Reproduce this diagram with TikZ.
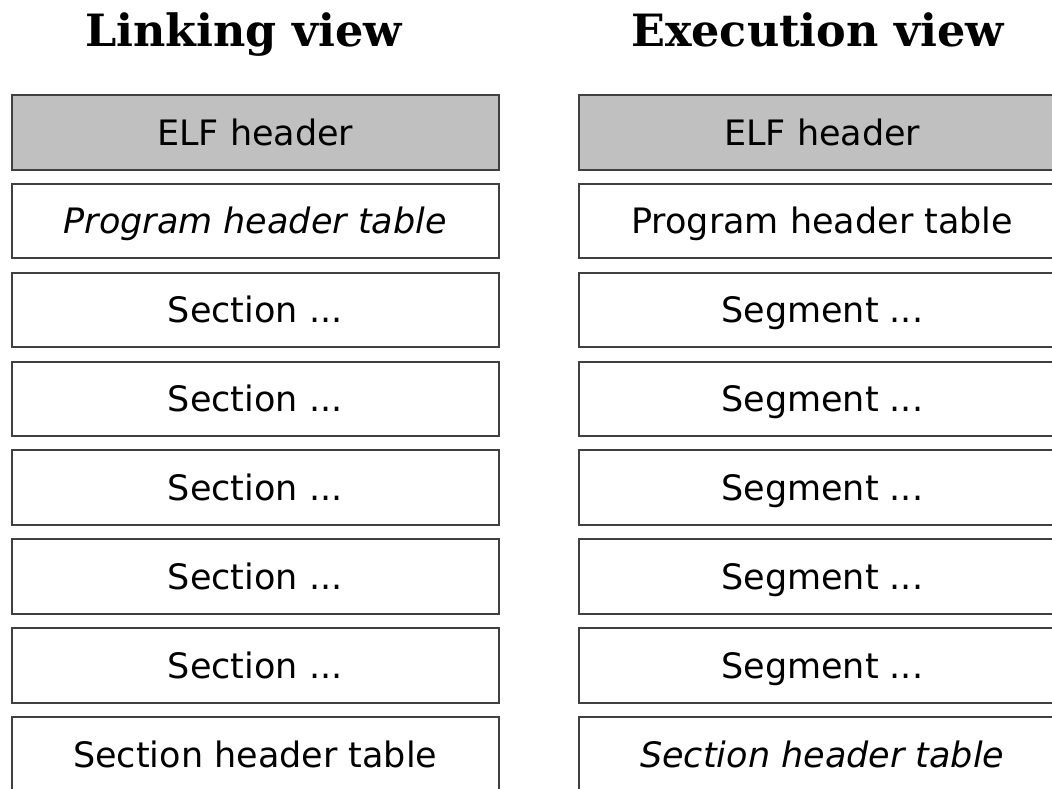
\documentclass[tikz,border=0pt]{standalone}
\usepackage{fontspec}
\setmainfont{DejaVu Sans}
\newfontfamily\titlefont{DejaVu Serif}
\definecolor{edgegray}{HTML}{404040}
\definecolor{headfill}{HTML}{C0C0C0}
\tikzset{
  x=1pt, y=1pt,
  cell/.style={draw=edgegray, line width=2pt, fill=white, minimum width=486.5pt, minimum height=74.5pt, inner sep=0pt, text height=30pt, text depth=4.5pt, anchor=center, font=\fontsize{35}{42}\selectfont},
  headcell/.style={cell, fill=headfill},
  viewtitle/.style={inner sep=0pt, anchor=base, font=\titlefont\bfseries\fontsize{44.5}{52}\selectfont}
}
\begin{document}
\begin{tikzpicture}
\useasboundingbox (0,0) rectangle (1052,-788);
\clip (0,0) rectangle (1052,-788);
\fill[white] (0,0) rectangle (1052,-788);
\node[viewtitle] (tl) at (243.5,-46) {Linking view};
\node[viewtitle] (tr) at (817.5,-46) {Execution view};
% left column
\node[headcell] (l0) at (255.25,-132.25) {ELF header};
\node[cell] (l1) at (255.25,-221.11) {\itshape Program header table};
\node[cell] (l2) at (255.25,-309.97) {Section ...};
\node[cell] (l3) at (255.25,-398.83) {Section ...};
\node[cell] (l4) at (255.25,-487.69) {Section ...};
\node[cell] (l5) at (255.25,-576.55) {Section ...};
\node[cell] (l6) at (255.25,-665.41) {Section ...};
\node[cell] (l7) at (255.25,-754.27) {Section header table};
% right column
\node[headcell] (r0) at (822.25,-132.25) {ELF header};
\node[cell] (r1) at (822.25,-221.11) {Program header table};
\node[cell] (r2) at (822.25,-309.97) {Segment ...};
\node[cell] (r3) at (822.25,-398.83) {Segment ...};
\node[cell] (r4) at (822.25,-487.69) {Segment ...};
\node[cell] (r5) at (822.25,-576.55) {Segment ...};
\node[cell] (r6) at (822.25,-665.41) {Segment ...};
\node[cell] (r7) at (822.25,-754.27) {\itshape Section header table};
\end{tikzpicture}
\end{document}
